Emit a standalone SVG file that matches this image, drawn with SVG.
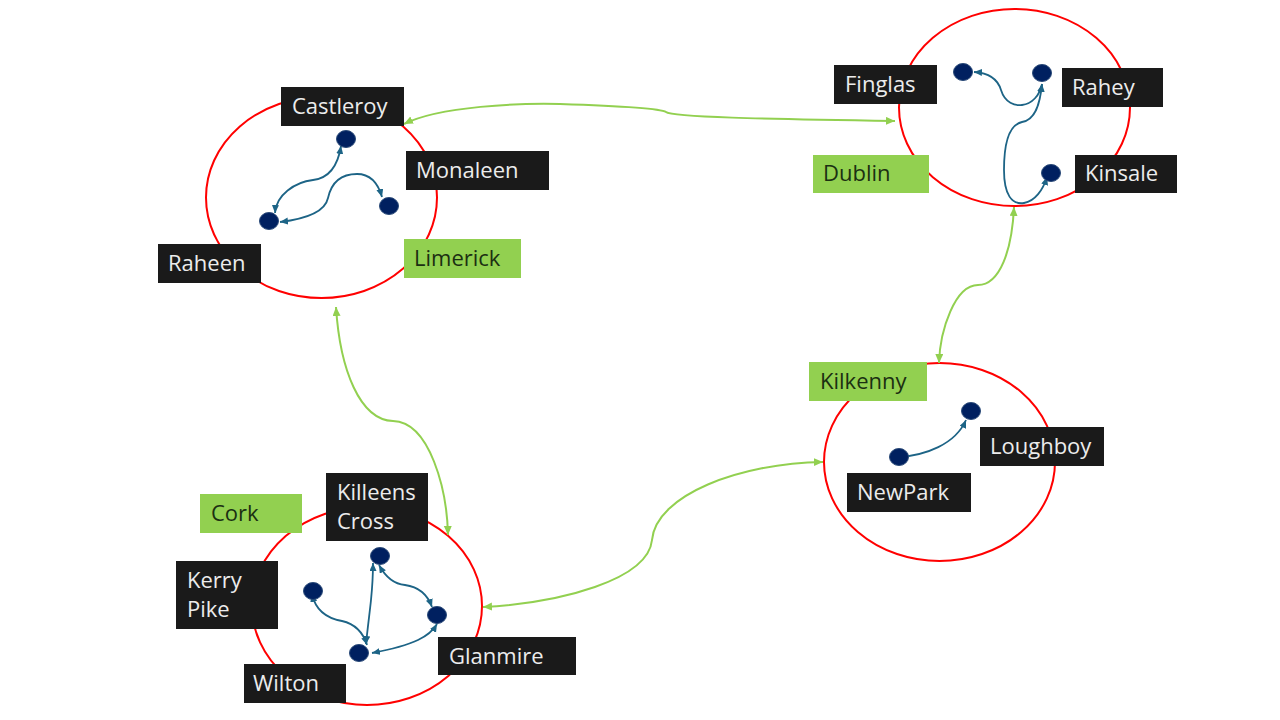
<svg xmlns="http://www.w3.org/2000/svg" width="1280" height="720" viewBox="0 0 1280 720">
<defs>
<style>
.region{fill:none;stroke:#ff0000;stroke-width:2}
.dot{fill:#002060;stroke:#2a4a78;stroke-width:1}
.lbl{fill:#1a1a1a}
.glbl{fill:#92d050}
.t{font-family:"Open Sans","Noto Sans",sans-serif;font-size:22px;fill:#ececec}
.gt{font-family:"Open Sans","Noto Sans",sans-serif;font-size:22px;fill:#1b2f12}
.blue{fill:none;stroke:#1d6486;stroke-width:1.8;marker-start:url(#ab);marker-end:url(#ab)}
.green{fill:none;stroke:#92d050;stroke-width:2;marker-start:url(#ag);marker-end:url(#ag)}
</style>
<marker id="ab" markerUnits="userSpaceOnUse" markerWidth="9" markerHeight="8" refX="8" refY="3.5" orient="auto-start-reverse"><path d="M0,0 L8,3.5 L0,7 z" fill="#1d6486"/></marker>
<marker id="ag" markerUnits="userSpaceOnUse" markerWidth="10" markerHeight="9" refX="9" refY="4" orient="auto-start-reverse"><path d="M0,0 L9,4 L0,8 z" fill="#92d050"/></marker>
</defs>
<rect width="1280" height="720" fill="#ffffff"/>

<g id="regions">
<g id="limerick"><ellipse class="region" cx="321.5" cy="197.5" rx="115.5" ry="100.5"/></g>
<g id="dublin"><ellipse class="region" cx="1014.5" cy="107.5" rx="115.5" ry="98.5"/></g>
<g id="kilkenny"><ellipse class="region" cx="939.5" cy="462" rx="115.5" ry="99"/></g>
<g id="cork"><ellipse class="region" cx="367" cy="606" rx="115" ry="99"/></g>
</g>

<g id="connectors">
<path class="green" d="M404,124 C440,106 520,103 560,104 C620,106 660,108 666,112 C672,117 760,119 895,121"/>
<path class="green" d="M336,307 C340,370 360,420 393,421 C430,422 447,490 448,535"/>
<path class="green" d="M483,607 C560,603 648,580 652,540 C656,495 740,463 823,462"/>
<path class="green" d="M1014,207 C1012,250 1000,285 978,285 C955,285 940,330 939,363"/>

<path class="blue" d="M341,146 C338,165 330,178 313,180 C295,182 276,195 275,213"/>
<path class="blue" d="M280,222 C305,219 325,212 328,198 C332,180 343,174 357,174 C370,174 378,183 382,197"/>
<path class="blue" d="M974,72 C990,73 998,80 1001,90 C1005,103 1015,106 1022,105 C1032,104 1040,95 1042,84"/>
<path class="blue" d="M1042,84 C1040,105 1035,120 1022,122 C1008,125 1004,145 1004,170 C1004,195 1012,205 1024,203 C1035,201 1043,190 1047,177"/>
<path class="blue" d="M900,457 C925,455 955,445 966,420"/>
<path class="blue" d="M312,594 C315,608 325,618 342,621 C355,624 363,632 367,645"/>
<path class="blue" d="M366,644 C368,625 370,610 371,600 C372,590 373,580 373,563"/>
<path class="blue" d="M379,565 C385,576 393,584 405,585 C420,587 428,596 432,607"/>
<path class="blue" d="M437,624 C430,636 415,645 372,653"/>
</g>

<g id="region-labels">
<g id="label-limerick"><rect class="glbl" x="404" y="239" width="117" height="39"/><text class="gt" x="414" y="266">Limerick</text></g>
<g id="label-dublin"><rect class="glbl" x="813" y="155" width="116" height="38"/><text class="gt" x="823" y="181">Dublin</text></g>
<g id="label-kilkenny"><rect class="glbl" x="809" y="362" width="118" height="39"/><text class="gt" x="820" y="389">Kilkenny</text></g>
<g id="label-cork"><rect class="glbl" x="200" y="494" width="102" height="39"/><text class="gt" x="211" y="521">Cork</text></g>
</g>

<g id="castleroy"><ellipse class="dot" cx="346" cy="139" rx="9.5" ry="8.5"/><rect class="lbl" x="281" y="87" width="123" height="39"/><text class="t" x="292" y="114">Castleroy</text></g>
<g id="monaleen"><ellipse class="dot" cx="389" cy="206" rx="9.5" ry="8.5"/><rect class="lbl" x="406" y="151" width="143" height="39"/><text class="t" x="416" y="178">Monaleen</text></g>
<g id="raheen"><ellipse class="dot" cx="269" cy="221" rx="9.5" ry="8.5"/><rect class="lbl" x="158" y="244" width="103" height="39"/><text class="t" x="168" y="271">Raheen</text></g>

<g id="finglas"><ellipse class="dot" cx="963" cy="72" rx="9.5" ry="8.5"/><rect class="lbl" x="834" y="65" width="103" height="39"/><text class="t" x="845" y="92">Finglas</text></g>
<g id="rahey"><ellipse class="dot" cx="1042" cy="73" rx="9.5" ry="8.5"/><rect class="lbl" x="1062" y="68" width="101" height="39"/><text class="t" x="1072" y="95">Rahey</text></g>
<g id="kinsale"><ellipse class="dot" cx="1051" cy="173" rx="9.5" ry="8.5"/><rect class="lbl" x="1075" y="155" width="102" height="38"/><text class="t" x="1085" y="181">Kinsale</text></g>

<g id="loughboy"><ellipse class="dot" cx="971" cy="411" rx="9.5" ry="8.5"/><rect class="lbl" x="980" y="427" width="124" height="39"/><text class="t" x="990" y="454">Loughboy</text></g>
<g id="newpark"><ellipse class="dot" cx="899" cy="457" rx="9.5" ry="8.5"/><rect class="lbl" x="847" y="473" width="124" height="39"/><text class="t" x="857" y="500">NewPark</text></g>

<g id="killeens-cross"><ellipse class="dot" cx="380" cy="556" rx="9.5" ry="8.5"/><rect class="lbl" x="326" y="473" width="102" height="68"/><text class="t" x="337" y="500">Killeens</text><text class="t" x="337" y="529">Cross</text></g>
<g id="kerry-pike"><ellipse class="dot" cx="313" cy="591" rx="9.5" ry="8.5"/><rect class="lbl" x="176" y="561" width="102" height="68"/><text class="t" x="187" y="588">Kerry</text><text class="t" x="187" y="617">Pike</text></g>
<g id="glanmire"><ellipse class="dot" cx="437" cy="615" rx="9.5" ry="8.5"/><rect class="lbl" x="438" y="637" width="138" height="38"/><text class="t" x="449" y="664">Glanmire</text></g>
<g id="wilton"><ellipse class="dot" cx="359" cy="653" rx="9.5" ry="8.5"/><rect class="lbl" x="244" y="664" width="102" height="39"/><text class="t" x="253" y="691">Wilton</text></g>
</svg>
